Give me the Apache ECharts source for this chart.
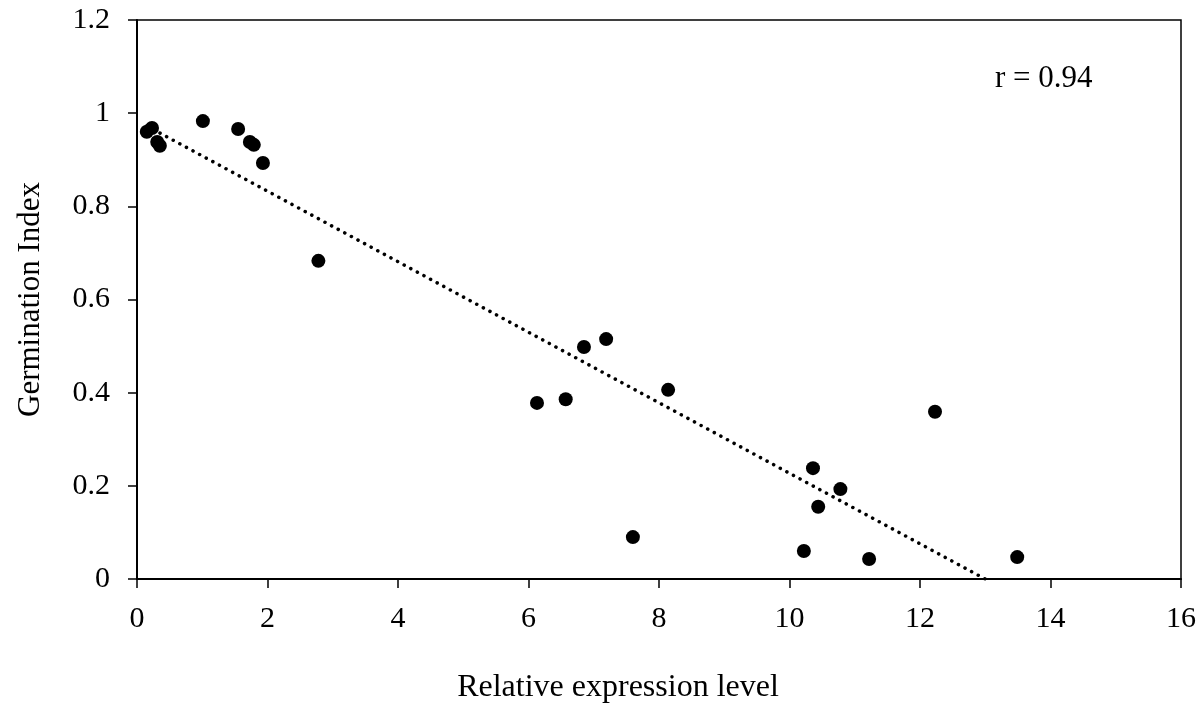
<!DOCTYPE html>
<html>
<head>
<meta charset="utf-8">
<script src="https://cdn.jsdelivr.net/npm/echarts@6/dist/echarts.min.js"></script>
<style>html,body{margin:0;padding:0;background:#fff;}#c{width:1203px;height:706px;}</style>
</head>
<body>
<div id="c"></div>
<script>
const expression = [0.15, 0.23, 0.31, 0.35, 1.01, 1.55, 1.73, 1.79, 1.93, 2.78, 6.13, 6.57, 6.85, 7.19, 7.60, 8.14, 10.22, 10.36, 10.44, 10.78, 11.22, 12.23, 13.49];
const germination = [0.960, 0.968, 0.938, 0.930, 0.983, 0.966, 0.938, 0.932, 0.893, 0.683, 0.378, 0.386, 0.498, 0.515, 0.090, 0.406, 0.060, 0.238, 0.155, 0.193, 0.043, 0.359, 0.047];
const xTicks = [0, 2, 4, 6, 8, 10, 12, 14, 16];
const yTicks = [0, 0.2, 0.4, 0.6, 0.8, 1, 1.2];
const rLabel = 'r = 0.94';

// least-squares trendline from the data
const n = expression.length;
const mx = expression.reduce((a,b)=>a+b,0)/n;
const my = germination.reduce((a,b)=>a+b,0)/n;
let sxy=0, sxx=0;
for (let i=0;i<n;i++){ sxy += (expression[i]-mx)*(germination[i]-my); sxx += (expression[i]-mx)**2; }
const slope = sxy/sxx, icpt = my - slope*mx;
const xStart = Math.min(...expression);
let xEnd = Math.max(...expression);
if (icpt + slope*xEnd < 0) xEnd = -icpt/slope;
const trend = [[xStart, icpt+slope*xStart],[xEnd, icpt+slope*xEnd]];

const font = '"Liberation Serif", "Times New Roman", serif';
const chart = echarts.init(document.getElementById('c'));
chart.setOption({
  animation: false,
  grid: {left: 137, right: 22, top: 20, bottom: 127, show: true, borderColor: '#000', borderWidth: 1.5, outerBoundsMode: 'none', containLabel: false},
  xAxis: {
    type: 'value', min: 0, max: 16, interval: 2,
    name: 'Relative expression level', nameLocation: 'middle', nameGap: 93,
    nameTextStyle: {fontFamily: font, fontSize: 32, color: '#000', padding: [0, 82, 0, 0]},
    axisLine: {lineStyle: {color: '#000', width: 2}},
    axisTick: {show: true, length: 9, lineStyle: {color: '#000', width: 1.5}},
    axisLabel: {fontFamily: font, fontSize: 30, color: '#000', margin: 25},
    splitLine: {show: false}
  },
  yAxis: {
    type: 'value', min: 0, max: 1.2, interval: 0.2,
    name: 'Germination Index', nameLocation: 'middle', nameGap: 91,
    nameTextStyle: {fontFamily: font, fontSize: 31, color: '#000'},
    axisLine: {show: true, lineStyle: {color: '#000', width: 2}},
    axisTick: {show: true, length: 9, lineStyle: {color: '#000', width: 1.5}},
    axisLabel: {fontFamily: font, fontSize: 30, color: '#000', margin: 27, formatter: v => String(+v.toFixed(1))},
    splitLine: {show: false}
  },
  series: [
    {
      type: 'line', data: trend, symbol: 'none', silent: true,
      lineStyle: {color: '#000', width: 3.5, type: [0.1, 7.4], cap: 'round'},
      z: 1
    },
    {
      type: 'scatter', data: expression.map((x,i)=>[x, germination[i]]),
      symbol: 'circle', symbolSize: 14,
      itemStyle: {color: '#000', opacity: 1}, z: 2
    }
  ],
  graphic: [{
    type: 'text', left: 995, top: 63,
    style: {text: rLabel, font: '31px ' + font, fill: '#000'}
  }]
});
</script>
</body>
</html>
